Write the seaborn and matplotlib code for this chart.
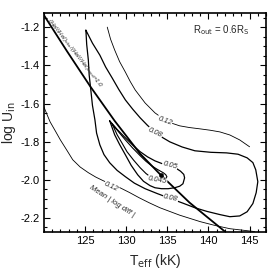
import matplotlib
matplotlib.use("Agg")
import matplotlib.pyplot as plt
import seaborn as sns
from matplotlib.ticker import MultipleLocator

sns.set_theme(style="ticks")
plt.rcParams['font.family'] = ['Liberation Sans', 'DejaVu Sans']

# ratio (HeII/HeI)obs/(HeII/HeI)mod = 1.0
ratio_T = [120.0, 122.8, 125.6, 128.6, 131.7, 134.2, 137.7, 142.0]
ratio_U = [-1.136, -1.325, -1.508, -1.691, -1.864, -1.975, -2.120, -2.272]

# mean |log diff| = 0.12 (upper branch)
c12u_T = [127.7, 128.1, 128.6, 129.2, 129.9, 130.5, 131.1, 132.3, 133.5, 134.7, 135.6, 136.5, 137.7, 139.0, 140.2, 141.4, 142.6, 143.8, 145.0]
c12u_U = [-1.199, -1.262, -1.319, -1.380, -1.435, -1.485, -1.529, -1.597, -1.649, -1.686, -1.704, -1.717, -1.726, -1.733, -1.740, -1.749, -1.765, -1.791, -1.827]

# mean |log diff| = 0.12 (lower branch)
c12l_T = [120.0, 120.4, 120.75, 121.4, 122.0, 122.8, 123.5, 124.4, 125.4, 126.3, 127.2, 128.2, 129.25, 130.4, 131.55, 132.8, 134.1, 136.5, 139.0, 140.8, 142.6, 145.6]
c12l_U = [-1.618, -1.660, -1.696, -1.745, -1.791, -1.846, -1.895, -1.933, -1.963, -1.986, -2.005, -2.024, -2.042, -2.067, -2.094, -2.121, -2.147, -2.186, -2.220, -2.240, -2.257, -2.272]

# 0.08 contour (closed)
c08_T = [125.1, 125.9, 126.8, 127.5, 128.3, 129.1, 129.9, 130.8, 131.7, 132.6, 133.5, 134.4, 135.3, 136.8, 138.35, 140.3, 142.2,
         143.6, 144.7, 145.4, 145.75, 146.0, 145.8, 145.4, 144.7, 143.8, 142.6, 141.4, 139.8, 138.35, 136.9, 135.4,
         133.8, 132.3, 131.0, 129.9, 128.9, 128.0, 127.3, 126.8, 126.4, 126.2, 125.9, 125.7, 125.5, 125.4, 125.2, 125.1]
c08_U = [-1.215, -1.283, -1.346, -1.408, -1.466, -1.526, -1.581, -1.630, -1.675, -1.715, -1.749, -1.778, -1.801, -1.828, -1.848, -1.856, -1.859,
         -1.866, -1.885, -1.910, -1.948, -2.010, -2.068, -2.125, -2.168, -2.190, -2.194, -2.183, -2.166, -2.147, -2.123, -2.099,
         -2.073, -2.047, -2.018, -1.984, -1.951, -1.911, -1.868, -1.817, -1.755, -1.686, -1.610, -1.529, -1.450, -1.372, -1.290, -1.215]

# 0.05 contour (closed)
c05_T = [128.0, 128.9, 129.9, 130.8, 131.7, 132.6, 133.5, 134.4, 135.3, 136.0, 136.6, 137.0, 137.1, 136.9, 136.5, 135.9, 135.1, 134.3, 133.5, 132.9, 132.1, 131.4, 130.6, 129.9, 129.2, 128.6, 128.0]
c05_U = [-1.691, -1.736, -1.780, -1.818, -1.853, -1.880, -1.901, -1.916, -1.927, -1.938, -1.955, -1.972, -1.990, -2.021, -2.034, -2.042, -2.047, -2.047, -2.042, -2.031, -2.008, -1.974, -1.924, -1.869, -1.815, -1.764, -1.691]

# 0.045 contour (closed)
c045_T = [128.3, 129.1, 129.9, 130.8, 131.7, 132.4, 133.1, 133.8, 134.5, 134.8, 134.95, 134.8, 134.5, 133.8, 133.1, 132.4, 131.7, 130.9, 130.1, 129.5, 128.9, 128.3]
c045_U = [-1.707, -1.750, -1.791, -1.834, -1.874, -1.903, -1.927, -1.946, -1.963, -1.973, -1.984, -1.994, -2.000, -1.998, -1.990, -1.967, -1.937, -1.897, -1.853, -1.808, -1.764, -1.707]

best_T = [134.22]
best_U = [-1.975]

fig = plt.figure(figsize=(2.78, 2.78), dpi=100)
ax = fig.add_axes([0.158, 0.165, 0.799, 0.788])

def draw(T, U, lw):
    sns.lineplot(x=T, y=U, sort=False, estimator=None, color='black', lw=lw, ax=ax)

draw(c12u_T, c12u_U, 0.6)
draw(c12l_T, c12l_U, 0.6)
draw(c08_T, c08_U, 0.9)
draw(c05_T, c05_U, 0.9)
draw(c045_T, c045_U, 0.8)
draw(ratio_T, ratio_U, 1.3)
sns.scatterplot(x=best_T, y=best_U, color='black', s=10, ax=ax, zorder=5, edgecolor='black')

ax.set_xlim(120.0, 147.0)
ax.set_ylim(-2.275, -1.125)
ax.xaxis.set_minor_locator(MultipleLocator(1))
ax.yaxis.set_minor_locator(MultipleLocator(0.05))
ax.set_xticks([125, 130, 135, 140, 145])
ax.set_yticks([-2.2, -2.0, -1.8, -1.6, -1.4, -1.2])
ax.set_yticklabels(['-2.2', '-2.0', '-1.8', '-1.6', '-1.4', '-1.2'])
ax.tick_params(which='both', direction='in', top=True, right=True, labelsize=8, width=0.8, colors='black', pad=3)
ax.tick_params(which='major', length=4.5)
ax.tick_params(which='minor', length=2.5)
for s in ax.spines.values():
    s.set_linewidth(1.2)
    s.set_color('black')

ax.set_xlabel(r'T$_{\rm eff}$ (kK)', fontsize=10, labelpad=4)
ax.set_ylabel(r'log U$_{\rm in}$', fontsize=10, labelpad=2)

lab = dict(fontsize=5.5, style='italic', ha='center', va='center',
           bbox=dict(facecolor='white', edgecolor='none', pad=0.3))
ax.text(134.7, -1.690, '0.12', rotation=-20, **lab)
ax.text(133.5, -1.755, '0.08', rotation=-25, **lab)
ax.text(135.3, -1.925, '0.05', rotation=-15, **lab)
ax.text(133.8, -2.003, '0.045', rotation=-10, **lab)
ax.text(135.4, -2.097, '0.08', rotation=-12, **lab)
ax.text(128.2, -2.035, '0.12', rotation=-25, **lab)
ax.text(128.3, -2.115, 'Mean | log diff |', rotation=-33, fontsize=5.5, style='italic',
        ha='center', va='center')
ax.text(123.75, -1.335, r'(HeII/HeI)$_{\rm obs}$/(HeII/HeI)$_{\rm mod}$=1.0', rotation=-52,
        fontsize=4.4, style='italic', ha='center', va='center')
ax.text(0.925, 0.955, r'R$_{\rm out}$ = 0.6R$_{\rm S}$', transform=ax.transAxes,
        fontsize=7, ha='right', va='top')

fig.savefig('out.png', dpi=100)
